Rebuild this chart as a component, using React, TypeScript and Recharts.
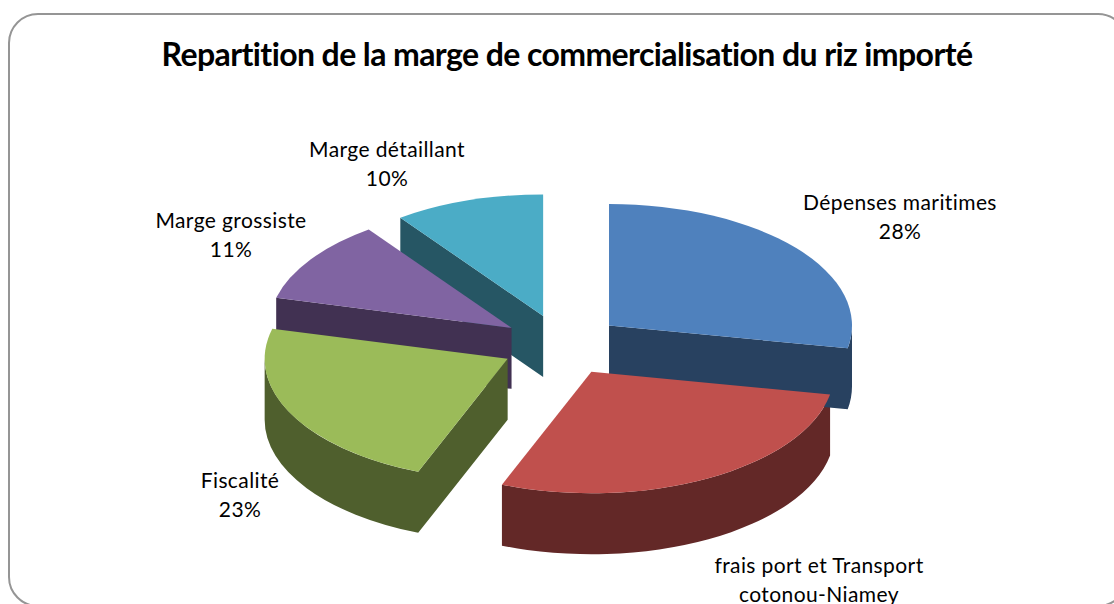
import { Pie, PieChart } from 'recharts'

// Repartition of the rice margin, clockwise from 12 o'clock
const categories = [
  ['Dépenses maritimes'],
  ['frais port et Transport', 'cotonou-Niamey'],
  ['Fiscalité'],
  ['Marge grossiste'],
  ['Marge détaillant'],
]
const shares = [28, 28, 23, 11, 10]
const topColors = ['#4F81BD', '#C0504D', '#9BBB59', '#8064A2', '#4BACC6']
const sideColors = ['#284160', '#632827', '#4F5F2D', '#413152', '#265664']
const labelCenters = [
  [900, 203],
  [819, 566],
  [240, 481],
  [231, 221],
  [387, 150],
]

const WIDTH = 1114
const HEIGHT = 604
const CX = 562
const CY = 345
const RADIUS = 243
const TILT = 0.5
const DEPTH = 61
const EXPLODE = 61

const pieData = categories.map((lines, i) => ({
  name: lines.join(' '),
  value: shares[i],
  fill: topColors[i],
  side: sideColors[i],
}))
// walls paint back to front, so the same slices are walked the other way round
const wallData = [...pieData].reverse()

const rad = (deg: number) => (deg * Math.PI) / 180

function sliceGeometry(props: any) {
  const { cx, cy, outerRadius, startAngle, endAngle, midAngle } = props
  const mid = rad(midAngle)
  const ox = cx + EXPLODE * Math.cos(mid)
  const oy = cy - EXPLODE * TILT * Math.sin(mid)
  const point = (deg: number, drop = 0) => ({
    x: ox + outerRadius * Math.cos(rad(deg)),
    y: oy - outerRadius * TILT * Math.sin(rad(deg)) + drop,
  })
  return {
    ox,
    oy,
    point,
    rx: outerRadius,
    ry: outerRadius * TILT,
    hi: Math.max(startAngle, endAngle),
    lo: Math.min(startAngle, endAngle),
    mid,
  }
}

function TopShape(props: any) {
  const { ox, oy, point, rx, ry, hi, lo } = sliceGeometry(props)
  const a = point(hi)
  const b = point(lo)
  const large = hi - lo > 180 ? 1 : 0
  const d = `M${ox},${oy}L${a.x},${a.y}A${rx},${ry} 0 ${large} 1 ${b.x},${b.y}Z`
  return <path d={d} fill={props.fill} stroke="none" />
}

function WallShape(props: any) {
  const { ox, oy, point, rx, ry, hi, lo, mid } = sliceGeometry(props)
  const fill = props.side
  const parts: string[] = []

  // a straight cut face shows only if the slice lies above that edge
  for (const deg of [hi, lo]) {
    const ex = Math.cos(rad(deg))
    const ey = -TILT * Math.sin(rad(deg))
    const crossDown = ex
    const crossMid = ex * (-TILT * Math.sin(mid)) - ey * Math.cos(mid)
    if (crossDown * crossMid < 0) {
      const p = point(deg)
      parts.push(`M${ox},${oy}L${p.x},${p.y}L${p.x},${p.y + DEPTH}L${ox},${oy + DEPTH}Z`)
    }
  }

  // the rim shows on the lower half of the ellipse, recharts angles -180..0 (mod 360)
  for (const turn of [-360, 0, 360]) {
    const from = Math.min(hi, turn)
    const to = Math.max(lo, turn - 180)
    if (from > to) {
      const a = point(from)
      const b = point(to)
      const c = point(from, DEPTH)
      const e = point(to, DEPTH)
      parts.push(
        `M${a.x},${a.y}A${rx},${ry} 0 0 1 ${b.x},${b.y}L${e.x},${e.y}A${rx},${ry} 0 0 0 ${c.x},${c.y}Z`,
      )
    }
  }

  return <path d={parts.join('')} fill={fill} stroke="none" />
}

function SliceLabel(props: any) {
  const { index } = props
  const [x, y] = labelCenters[index]
  const lines = [...categories[index], `${shares[index]}%`]
  return (
    <text
      x={x}
      y={y}
      textAnchor="middle"
      fill="#000"
      style={{ fontFamily: 'Lato', fontSize: 21, letterSpacing: 0.4 }}
    >
      {lines.map((line, i) => (
        <tspan key={line} x={x} dy={i === 0 ? 7 : 29}>
          {line}
        </tspan>
      ))}
    </text>
  )
}

export default function App() {
  return (
    <div
      style={{
        position: 'absolute',
        left: 0,
        top: 0,
        width: WIDTH,
        height: HEIGHT,
        overflow: 'hidden',
        background: '#fff',
      }}
    >
      <div
        style={{
          position: 'absolute',
          left: 8,
          top: 13,
          width: 1120,
          height: 594,
          border: '2px solid #959595',
          borderRadius: 30,
          boxSizing: 'border-box',
        }}
      />
      <div
        style={{
          position: 'absolute',
          left: 0,
          top: 34,
          width: 1134,
          textAlign: 'center',
          fontFamily: 'Lato',
          fontWeight: 700,
          fontSize: 32,
          lineHeight: '40px',
          letterSpacing: -0.6,
          color: '#000',
          whiteSpace: 'nowrap',
        }}
      >
        Repartition de la marge de commercialisation du riz importé
      </div>
      <div style={{ position: 'absolute', left: 0, top: 0 }}>
        <PieChart width={WIDTH} height={HEIGHT} margin={{ top: 0, right: 0, bottom: 0, left: 0 }}>
          <Pie
            data={wallData}
            dataKey="value"
            cx={CX}
            cy={CY}
            innerRadius={0}
            outerRadius={RADIUS}
            startAngle={90}
            endAngle={450}
            stroke="none"
            shape={WallShape}
            label={false}
            labelLine={false}
            isAnimationActive={false}
          />
          <Pie
            data={pieData}
            dataKey="value"
            cx={CX}
            cy={CY}
            innerRadius={0}
            outerRadius={RADIUS}
            startAngle={90}
            endAngle={-270}
            stroke="none"
            shape={TopShape}
            label={SliceLabel}
            labelLine={false}
            isAnimationActive={false}
          />
        </PieChart>
      </div>
    </div>
  )
}
